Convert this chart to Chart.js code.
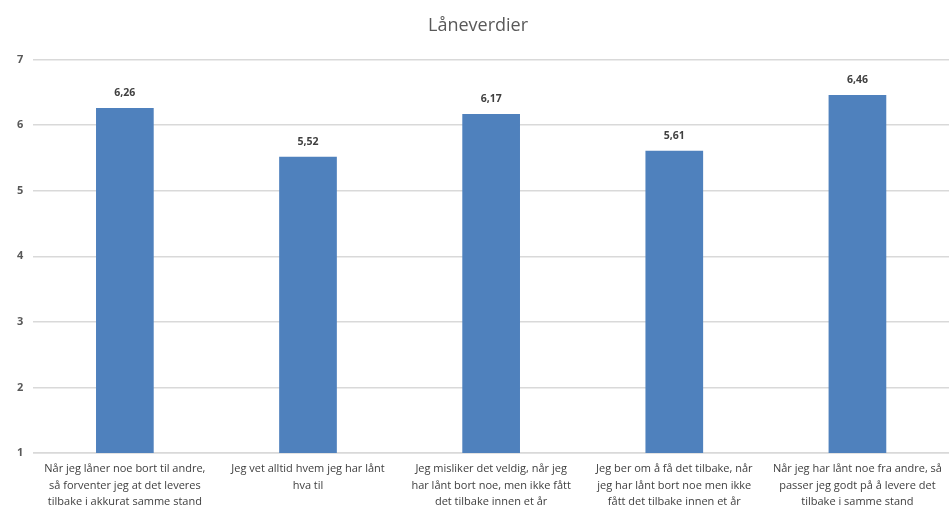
<!DOCTYPE html>
<html><head><meta charset="utf-8">
<script src="https://cdn.jsdelivr.net/npm/chart.js@4"></script>
<style>html,body{margin:0;padding:0;background:#fff}#w{width:949px;height:508px}</style>
</head><body><div id="w"><canvas id="c"></canvas></div>
<script>
const categories = [
  ["Når jeg låner noe bort til andre,", "så forventer jeg at det leveres", "tilbake i akkurat samme stand"],
  ["Jeg vet alltid hvem jeg har lånt", "hva til"],
  ["Jeg misliker det veldig, når jeg", "har lånt bort noe, men ikke fått", "det tilbake innen et år"],
  ["Jeg ber om å få det tilbake, når", "jeg har lånt bort noe men ikke", "fått det tilbake innen et år"],
  ["Når jeg har lånt noe fra andre, så", "passer jeg godt på å levere det", "tilbake i samme stand"]
];
const values = [6.26, 5.52, 6.17, 5.61, 6.46];
const titleText = "Låneverdier";

const labelPlugin = {
  id: 'vals',
  afterDatasetsDraw(chart) {
    const ctx = chart.ctx;
    const meta = chart.getDatasetMeta(0);
    ctx.save();
    ctx.font = 'bold 10.5px "Open Sans", sans-serif';
    ctx.fillStyle = '#404040';
    ctx.textAlign = 'center';
    ctx.textBaseline = 'middle';
    meta.data.forEach((bar, i) => {
      ctx.fillText(values[i].toFixed(2).replace('.', ','), bar.x, bar.y - 15);
    });
    ctx.restore();
  }
};

new Chart(document.getElementById('c'), {
  type: 'bar',
  data: { labels: categories, datasets: [{ data: values, backgroundColor: '#4f81bd', borderWidth: 0, barPercentage: 0.315, categoryPercentage: 1 }] },
  options: {
    responsive: true, maintainAspectRatio: false, animation: false,
    layout: { padding: { left: 7, right: 0, top: 0, bottom: 0 } },
    plugins: {
      legend: { display: false }, tooltip: { enabled: false },
      title: { display: true, text: titleText, color: '#595959', font: { family: 'Open Sans', size: 18, weight: 'normal' }, padding: { top: 15, bottom: 23 } }
    },
    scales: {
      y: { min: 1, max: 7, ticks: { stepSize: 1, color: '#595959', font: { family: 'Open Sans', size: 11, weight: 'bold' }, padding: 10 },
           grid: { color: '#d9d9d9', lineWidth: 1.5, drawTicks: false }, border: { display: false } },
      x: { ticks: { color: '#404040', font: { family: 'Open Sans', size: 11, lineHeight: 1.5 }, maxRotation: 0, autoSkip: false, padding: 0 },
           afterFit(scale) { scale.height = 55; },
           grid: { display: false }, border: { display: true, color: '#d9d9d9', width: 1.5 } }
    }
  },
  plugins: [labelPlugin]
});
</script></body></html>
